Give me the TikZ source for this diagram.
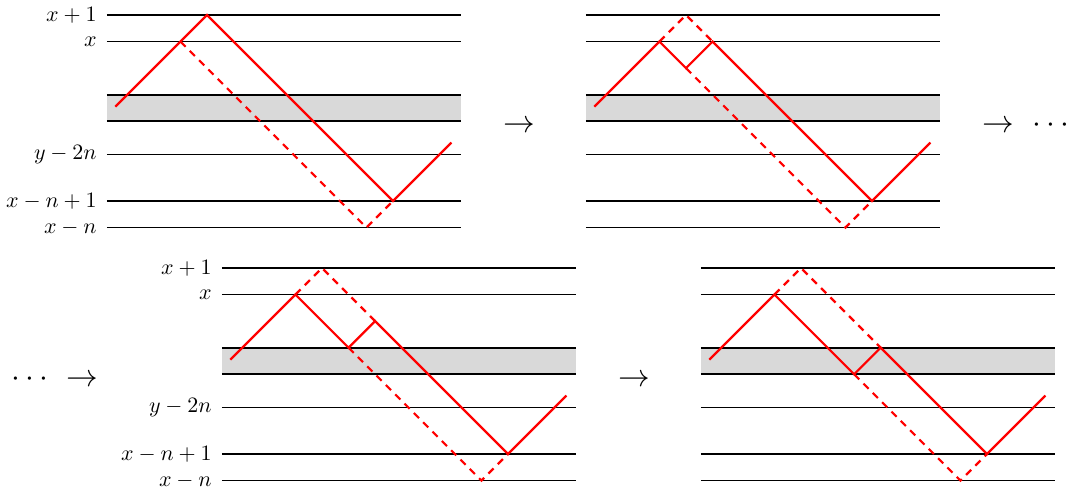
\documentclass[tikz,border=0pt]{standalone}
\begin{document}
\begin{tikzpicture}[x=0.455pt,y=-0.455pt,
  level/.style={line width=0.8pt},
  band/.style={fill=black!15},
  rpath/.style={red,line width=1pt,line join=miter},
  dpath/.style={rpath,dash pattern=on 3.3pt off 2.7pt},
  lab/.style={anchor=east,inner sep=0pt,xshift=-4.5pt},
  op/.style={anchor=base,font=\Large}]
\useasboundingbox (0,0) rectangle (1068,488);
\newcommand{\ladder}{%
  \fill[band] (-3.764,3) rectangle (9.56,4);
  \foreach \l in {0,1,3,4,5.25,7,8} \draw[level] (-3.764,\l) -- (9.56,\l);}
% top-left panel
\begin{scope}[shift={(207,15)},x=12.09pt,y=-12.09pt]
  \ladder
  \node[lab] (tl0) at (-3.764,0) {$x+1$};
  \node[lab] (tl1) at (-3.764,1) {$x$};
  \node[lab] (tl2) at (-3.764,5.25) {$y-2n$};
  \node[lab] (tl3) at (-3.764,7) {$x-n+1$};
  \node[lab] (tl4) at (-3.764,8) {$x-n$};
  \draw[dpath] (-1,1) -- (6,8) -- (7,7);
  \draw[rpath] (-3.45,3.45) -- (0,0) -- (7,7) -- (9.2,4.8);
\end{scope}
% top-right panel
\begin{scope}[shift={(686,15)},x=12.09pt,y=-12.09pt]
  \ladder
  \draw[dpath] (-1,1) -- (0,0) -- (1,1);
  \draw[dpath] (0,2) -- (6,8) -- (7,7);
  \draw[rpath] (-3.45,3.45) -- (-1,1) -- (0,2) -- (1,1) -- (7,7) -- (9.2,4.8);
\end{scope}
% bottom-left panel
\begin{scope}[shift={(322,268)},x=12.09pt,y=-12.09pt]
  \ladder
  \node[lab] (bl0) at (-3.764,0) {$x+1$};
  \node[lab] (bl1) at (-3.764,1) {$x$};
  \node[lab] (bl2) at (-3.764,5.25) {$y-2n$};
  \node[lab] (bl3) at (-3.764,7) {$x-n+1$};
  \node[lab] (bl4) at (-3.764,8) {$x-n$};
  \draw[dpath] (-1,1) -- (0,0) -- (2,2);
  \draw[dpath] (1,3) -- (6,8) -- (7,7);
  \draw[rpath] (-3.45,3.45) -- (-1,1) -- (1,3) -- (2,2) -- (7,7) -- (9.2,4.8);
\end{scope}
% bottom-right panel
\begin{scope}[shift={(801,268)},x=12.09pt,y=-12.09pt]
  \ladder
  \draw[dpath] (-1,1) -- (0,0) -- (3,3);
  \draw[dpath] (2,4) -- (6,8) -- (7,7);
  \draw[rpath] (-3.45,3.45) -- (-1,1) -- (2,4) -- (3,3) -- (7,7) -- (9.2,4.8);
\end{scope}
% transition symbols
\node[op] (ar1) at (519,133) {$\rightarrow$};
\node[op] (ar2) at (998,133) {$\rightarrow$};
\node[op] (dt1) at (1051,133) {$\cdots$};
\node[op] (dt2) at (30,386) {$\cdots$};
\node[op] (ar3) at (82.5,386) {$\rightarrow$};
\node[op] (ar4) at (634,386) {$\rightarrow$};
\end{tikzpicture}
\end{document}
